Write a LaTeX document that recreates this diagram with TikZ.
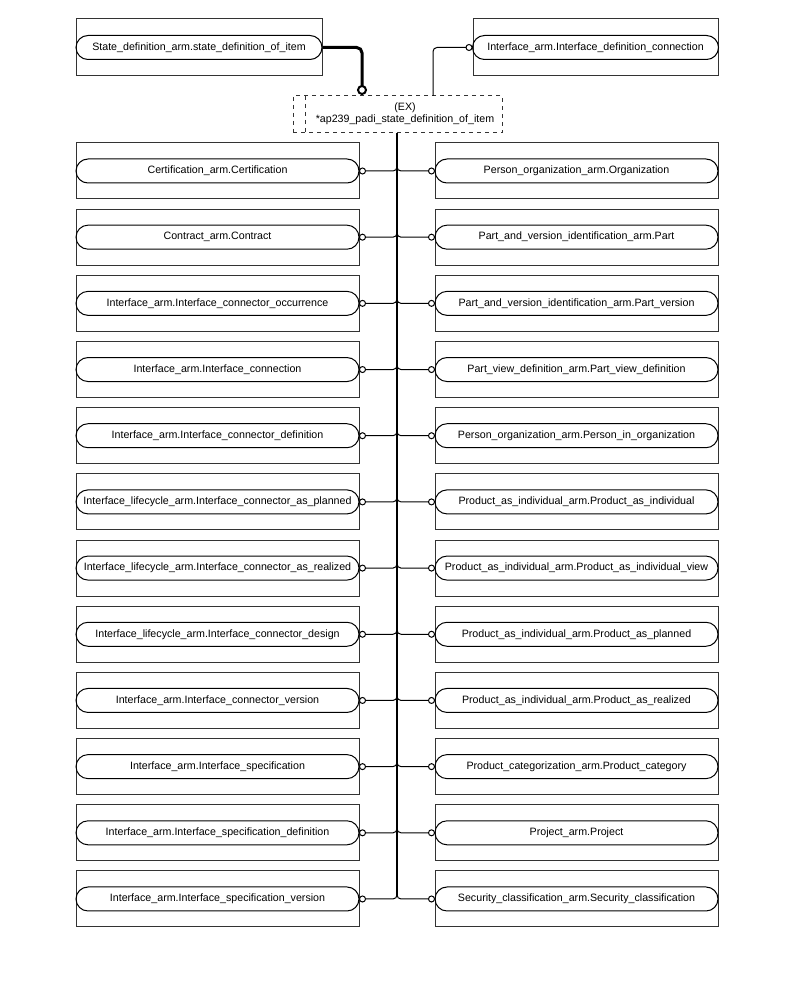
\documentclass[tikz,border=0pt]{standalone}
\usepackage{fontspec}
\setmainfont{Liberation Sans}
\begin{document}
\begin{tikzpicture}[x=0.75pt,y=-0.75pt,
  frame/.style={draw=black!80,line width=0.75pt},
  pill/.style={draw=black,line width=0.75pt,rounded corners=9pt,minimum width=212.25pt,minimum height=18pt,inner sep=0pt,font=\fontsize{8}{9.6}\selectfont},
  toppill/.style={pill,minimum width=184.5pt},
  exbox/.style={draw=black!80,dashed,line width=0.75pt,minimum width=156.75pt,minimum height=27.75pt,inner sep=0pt},
  branch/.style={draw=black,line width=0.75pt,rounded corners=3pt},
  spine/.style={draw=black,line width=1.5pt},
  oring/.style={draw=black,line width=0.75pt,fill=white}]
\useasboundingbox[fill=white] (0,0) rectangle (794,984);
% top row
\draw[frame] (76,19) rectangle (322,76);
\node[toppill] (TL) at (199,47.5) {State\_definition\_arm.state\_definition\_of\_item};
\draw[frame] (473,19) rectangle (718,76);
\node[toppill] (TR) at (595.5,47.5) {Interface\_arm.Interface\_definition\_connection};
% EX box
\node[exbox] (ex) at (397.5,114.5) {};
\draw[draw=black!80,dashed,line width=0.75pt] (305,96) -- (305,133);
\node[font=\fontsize{8}{9}\selectfont,align=center,inner sep=0pt] (extext) at (405,114) {(EX)\\*ap239\_padi\_state\_definition\_of\_item};
% thick connector
\coordinate (tk) at (362,90);
\draw[black,line width=2.25pt,rounded corners=4pt] (TL.east) -- (TL.east -| tk) -- ([yshift=3pt]tk);
\draw[black,line width=1.5pt,fill=white] (tk) circle[radius=3pt];
% thin connector to TR
\coordinate (tr) at (433,96);
\draw[branch] (tr) -- (tr |- TR.west) -- ([xshift=-4.5pt]TR.west);
\draw[oring] ([xshift=-2.25pt]TR.west) circle[radius=2.25pt];
% spine
\coordinate (top) at (397,133);
\coordinate (bot) at (397,897);
\draw[spine] (top) -- (bot);
% rows
\foreach \t [count=\i from 0] in {
Certification\_arm.Certification,
Contract\_arm.Contract,
Interface\_arm.Interface\_connector\_occurrence,
Interface\_arm.Interface\_connection,
Interface\_arm.Interface\_connector\_definition,
Interface\_lifecycle\_arm.Interface\_connector\_as\_planned,
Interface\_lifecycle\_arm.Interface\_connector\_as\_realized,
Interface\_lifecycle\_arm.Interface\_connector\_design,
Interface\_arm.Interface\_connector\_version,
Interface\_arm.Interface\_specification,
Interface\_arm.Interface\_specification\_definition,
Interface\_arm.Interface\_specification\_version}{
  \pgfmathsetmacro\yy{171+66.18*\i}
  \draw[frame] (76,\yy-28) rectangle (359,\yy+28);
  \node[pill] (L\i) at (217.5,\yy) {\t};
  \coordinate (S\i) at (397,\yy);
  \draw[branch] ([xshift=4.5pt]L\i.east) -- (S\i) -- ++(0,-8);
  \draw[oring] ([xshift=2.25pt]L\i.east) circle[radius=2.25pt];
}
\foreach \t [count=\i from 0] in {
Person\_organization\_arm.Organization,
Part\_and\_version\_identification\_arm.Part,
Part\_and\_version\_identification\_arm.Part\_version,
Part\_view\_definition\_arm.Part\_view\_definition,
Person\_organization\_arm.Person\_in\_organization,
Product\_as\_individual\_arm.Product\_as\_individual,
Product\_as\_individual\_arm.Product\_as\_individual\_view,
Product\_as\_individual\_arm.Product\_as\_planned,
Product\_as\_individual\_arm.Product\_as\_realized,
Product\_categorization\_arm.Product\_category,
Project\_arm.Project,
Security\_classification\_arm.Security\_classification}{
  \pgfmathsetmacro\yy{171+66.18*\i}
  \draw[frame] (435,\yy-28) rectangle (718,\yy+28);
  \node[pill] (R\i) at (576.5,\yy) {\t};
  \coordinate (Q\i) at (397,\yy);
  \draw[branch] ([xshift=-4.5pt]R\i.west) -- (Q\i) -- ++(0,-8);
  \draw[oring] ([xshift=-2.25pt]R\i.west) circle[radius=2.25pt];
}
\end{tikzpicture}
\end{document}
